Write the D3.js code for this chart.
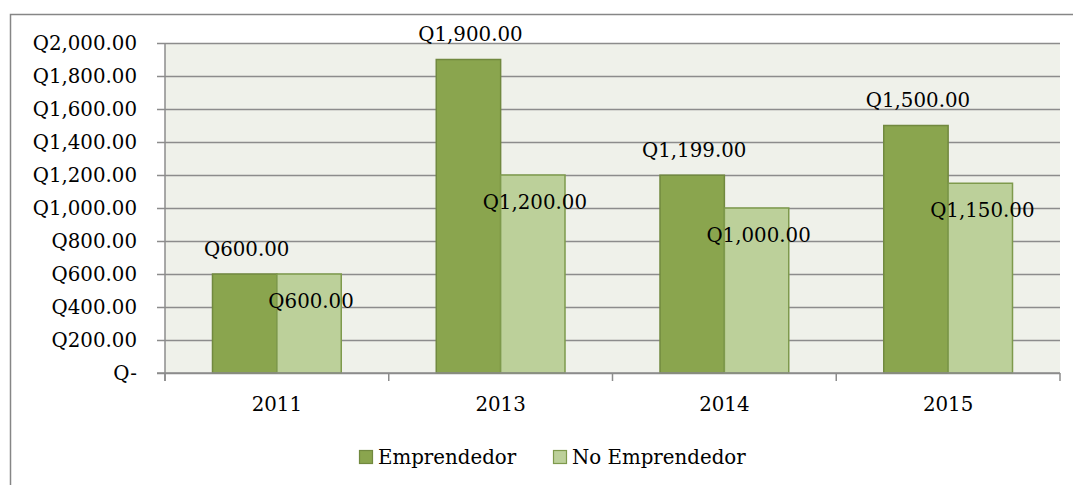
<!DOCTYPE html>
<html><head><meta charset="utf-8">
<script src="https://cdn.jsdelivr.net/npm/d3@7"></script>
<style>html,body{margin:0;padding:0;background:#fff;}</style>
</head><body>
<svg id="c" width="1073" height="485"></svg>
<script>
const categories = ["2011","2013","2014","2015"];
const seriesNames = ["Emprendedor","No Emprendedor"];
const emprendedor = [600,1900,1199,1500];
const noEmprendedor = [600,1200,1000,1150];
const yTicks = [0,200,400,600,800,1000,1200,1400,1600,1800,2000];

const colors = ["#8AA54E","#BCD09A"];
const strokes = ["#71893F","#7E9A4C"];
const font = "DejaVu Serif";
const fs = "19.8px";

const svg = d3.select("#c");
svg.append("rect").attr("x",10.5).attr("y",14.5).attr("width",1075).attr("height",490)
  .attr("fill","#fff").attr("stroke","#868686").attr("stroke-width",1.5);

const L=165, R=1060, T=43, B=373;
const x0 = d3.scaleBand().domain(categories).range([L,R]).paddingInner(0).paddingOuter(0);
const groupPad = 47.5;
const x1 = d3.scaleBand().domain(seriesNames).range([groupPad, x0.bandwidth()-groupPad]);
const y = d3.scaleLinear().domain([0,2000]).range([B,T]);

svg.append("rect").attr("x",L).attr("y",T).attr("width",R-L).attr("height",B-T).attr("fill","#EFF1EA");

// gridlines with tick marks
const yAxis = d3.axisLeft(y).tickValues(yTicks).tickSize(-(R-L)).tickSizeOuter(0)
  .tickFormat(d => d===0 ? "Q-" : "Q"+d3.format(",.2f")(d)).tickPadding(28);
const gy = svg.append("g").attr("transform",`translate(${L},0)`).call(yAxis);
gy.select(".domain").remove();
gy.selectAll(".tick line").attr("x1",-8).attr("stroke","#8C8C8C").attr("stroke-width",1.5);
gy.selectAll(".tick text").attr("font-family",font).attr("font-size",fs).attr("fill","#000");

// bars
const data = categories.map((c,i)=>({cat:c, vals:[emprendedor[i], noEmprendedor[i]]}));
const groups = svg.append("g").selectAll("g").data(data).join("g")
  .attr("transform",d=>`translate(${x0(d.cat)},0)`);
groups.selectAll("rect").data(d=>d.vals.map((v,j)=>({v,j}))).join("rect")
  .attr("x",d=>x1(seriesNames[d.j])).attr("y",d=>y(d.v))
  .attr("width",x1.bandwidth()).attr("height",d=>B-y(d.v))
  .attr("fill",d=>colors[d.j]).attr("stroke",d=>strokes[d.j]).attr("stroke-width",1.5);

// x axis
const xAxis = d3.axisBottom(x0).tickSize(0).tickPadding(0);
const gx = svg.append("g").attr("transform",`translate(0,${B})`).call(xAxis);
gx.select(".domain").remove();
gx.selectAll(".tick text").attr("font-family",font).attr("font-size",fs).attr("fill","#000")
  .attr("y",31).attr("dy",0).attr("dominant-baseline","central");
svg.append("line").attr("x1",L-8).attr("x2",R).attr("y1",B).attr("y2",B).attr("stroke","#8C8C8C").attr("stroke-width",1.5);
svg.append("line").attr("x1",L).attr("x2",L).attr("y1",T).attr("y2",B+8).attr("stroke","#8C8C8C").attr("stroke-width",1.5);
const bounds = categories.map(c=>x0(c)).concat([R]);
svg.append("g").selectAll("line").data(bounds).join("line")
  .attr("x1",d=>d).attr("x2",d=>d).attr("y1",B).attr("y2",B+8).attr("stroke","#8C8C8C").attr("stroke-width",1.5);

// labels
groups.selectAll("text.lab").data(d=>d.vals.map((v,j)=>({v,j}))).join("text").attr("class","lab")
  .attr("x",d=>x1(seriesNames[d.j])+x1.bandwidth()/2 + 2)
  .attr("y",d=>y(d.v) + (d.j===0 ? -25 : 27))
  .attr("dominant-baseline","central").attr("text-anchor","middle")
  .attr("font-family",font).attr("font-size",fs).attr("fill","#000")
  .text(d=>"Q"+d3.format(",.2f")(d.v));

// legend
const leg = [{name:seriesNames[0],x:359},{name:seriesNames[1],x:553}];
const lg = svg.append("g").selectAll("g").data(leg).join("g").attr("transform",d=>`translate(${d.x},450)`);
lg.append("rect").attr("x",0.5).attr("y",0.5).attr("width",13).attr("height",13).attr("fill",(d,i)=>colors[i]).attr("stroke",(d,i)=>strokes[i]).attr("stroke-width",1.2);
lg.append("text").attr("x",19).attr("y",7).attr("dominant-baseline","central")
  .attr("font-family",font).attr("font-size",fs).attr("fill","#000").text(d=>d.name);
</script>
</body></html>
